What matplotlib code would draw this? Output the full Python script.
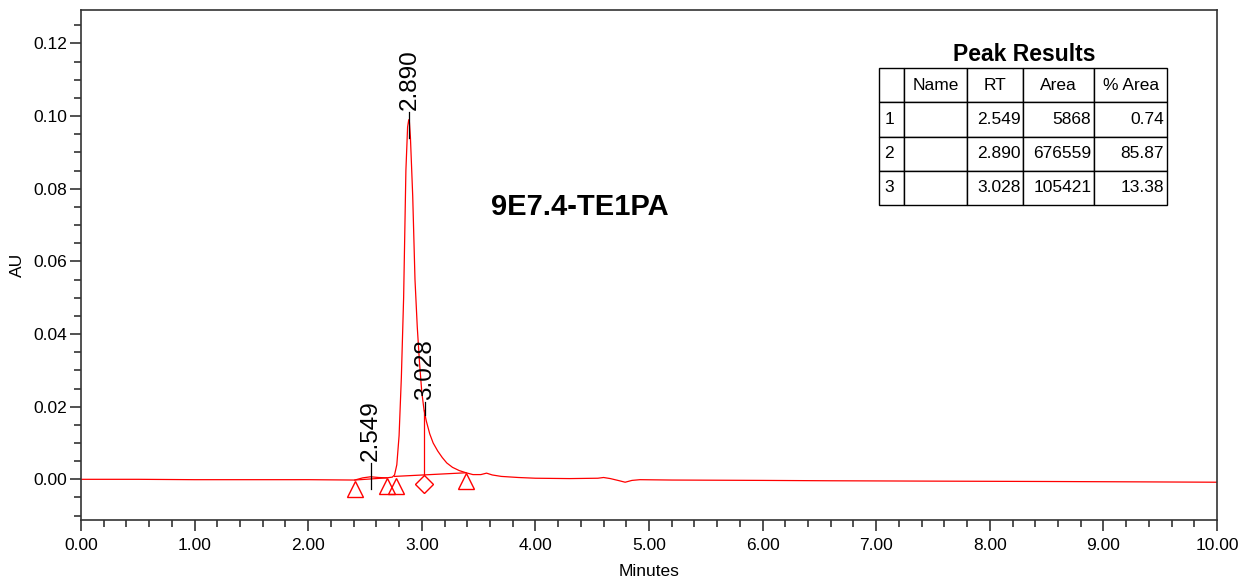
import matplotlib
matplotlib.use("Agg")
import matplotlib.pyplot as plt
from matplotlib.ticker import MultipleLocator

plt.rcParams['font.family'] = ['Liberation Sans', 'DejaVu Sans']

# chromatogram trace (minutes, AU)
times = [0.0, 0.5, 1.0, 1.5, 2.0, 2.41, 2.48, 2.55, 2.62, 2.69, 2.74, 2.76,
         2.78, 2.80, 2.82, 2.84, 2.86, 2.875, 2.885, 2.89, 2.90, 2.92, 2.94,
         2.96, 2.98, 3.00, 3.02, 3.04, 3.07, 3.10, 3.14, 3.18, 3.22, 3.27,
         3.33, 3.39, 3.45, 3.52, 3.57, 3.62, 3.70, 3.85, 4.0, 4.3, 4.55, 4.6,
         4.66, 4.74, 4.79, 4.85, 4.92, 5.2, 6.0, 6.6, 7.5, 8.5, 9.3, 10.0]
au = [0.0000, 0.0000, -0.0001, -0.0001, -0.0001, -0.0002, 0.0004, 0.0007,
      0.0005, 0.0004, 0.0006, 0.0012, 0.0040, 0.0120, 0.0280, 0.0500,
      0.0850, 0.0970, 0.0990, 0.0988, 0.0940, 0.0780, 0.0550, 0.0420,
      0.0320, 0.0240, 0.0190, 0.0160, 0.0125, 0.0100, 0.0078, 0.0060,
      0.0045, 0.0033, 0.0024, 0.0018, 0.0013, 0.0013, 0.0017, 0.0012,
      0.0008, 0.0005, 0.0003, 0.0002, 0.0003, 0.0005, 0.0002, -0.0004,
      -0.0008, -0.0003, -0.0001, -0.0002, -0.0003, -0.0004, -0.0005,
      -0.0006, -0.0007, -0.0008]

# peak labels
peak_rt = [2.549, 2.890, 3.028]
peak_line_lo = [-0.0028, 0.094, 0.0176]
peak_line_hi = [0.0044, 0.101, 0.0212]

# integration marks
tri_t = [2.41, 2.69, 2.77, 3.39]
tri_y = [-0.0026, -0.0018, -0.0018, -0.0006]
dia_t = [3.02]
dia_y = [-0.0012]
base_t = [[2.41, 2.69], [2.76, 3.39]]
base_y = [[-0.0002, 0.0004], [0.0008, 0.0018]]
drop_t = 3.02
drop_y = [0.0012, 0.019]

# peak results table
col_labels = ['', 'Name', 'RT', 'Area', '% Area']
rows = [['1', '', '2.549', '5868', '0.74'],
        ['2', '', '2.890', '676559', '85.87'],
        ['3', '', '3.028', '105421', '13.38']]

sample = '9E7.4-TE1PA'

fig = plt.figure(figsize=(12.54, 5.81), dpi=100)
ax = fig.add_axes([81/1254, 1-520/581, 1136/1254, 510/581])

red = '#ff0000'
ax.plot(times, au, color=red, lw=0.9)
for bt, by in zip(base_t, base_y):
    ax.plot(bt, by, color=red, lw=0.9)
ax.plot([drop_t, drop_t], drop_y, color=red, lw=0.9)
ax.plot(tri_t, tri_y, ls='none', marker='^', ms=12, mfc='none', mec=red, mew=1.0)
ax.plot(dia_t, dia_y, ls='none', marker='D', ms=9, mfc='none', mec=red, mew=1.0)

for rt, lo, hi in zip(peak_rt, peak_line_lo, peak_line_hi):
    ax.plot([rt, rt], [lo, hi], color='black', lw=0.9)
    ax.text(rt, hi + 0.0006, f'{rt:.3f}', rotation=90, ha='center', va='bottom',
            fontsize=17.5)

ax.text(4.39, 0.0749, sample, fontsize=21, fontweight='bold', ha='center', va='center')

ax.set_xlim(0, 10)
ax.set_ylim(-0.0112, 0.1292)
ax.xaxis.set_major_locator(MultipleLocator(1))
ax.xaxis.set_minor_locator(MultipleLocator(0.2))
ax.yaxis.set_major_locator(MultipleLocator(0.02))
ax.yaxis.set_minor_locator(MultipleLocator(0.005))
ax.xaxis.set_major_formatter(lambda v, p: f'{v:.2f}')
ax.yaxis.set_major_formatter(lambda v, p: f'{v:.2f}')

gray = '#333333'
for s in ax.spines.values():
    s.set_color(gray)
    s.set_linewidth(1.2)
ax.tick_params(which='major', length=8, width=1.2, color=gray, labelsize=12.5)
ax.tick_params(axis='x', which='major', pad=5)
ax.tick_params(axis='y', which='major', pad=2)
ax.tick_params(which='minor', length=5, width=1.2, color=gray)
ax.set_xlabel('Minutes', fontsize=12.5, labelpad=8)
ax.set_ylabel('AU', fontsize=12.5, labelpad=6)

ax.text(0.830, 0.9137, 'Peak Results', transform=ax.transAxes, fontsize=16.5,
        fontweight='bold', ha='center', va='center')
widths = [25, 62.4, 56.6, 70.7, 72.7]
tot = sum(widths)
tbl = ax.table(cellText=[col_labels] + rows,
               colWidths=[w / tot for w in widths],
               bbox=[0.7025, 0.6176, 0.2535, 0.2686])
tbl.auto_set_font_size(False)
tbl.set_fontsize(12.5)
for (r, c), cell in tbl.get_celld().items():
    cell.set_edgecolor('black')
    cell.set_linewidth(1.0)
    cell.PAD = 0.04 if c > 0 else 0.22
    if r == 0:
        cell._loc = 'center'
    elif c == 0:
        cell._loc = 'left'
    else:
        cell._loc = 'right'
    cell.get_text().set_ha(cell._loc)

fig.savefig('out.png', dpi=100)
